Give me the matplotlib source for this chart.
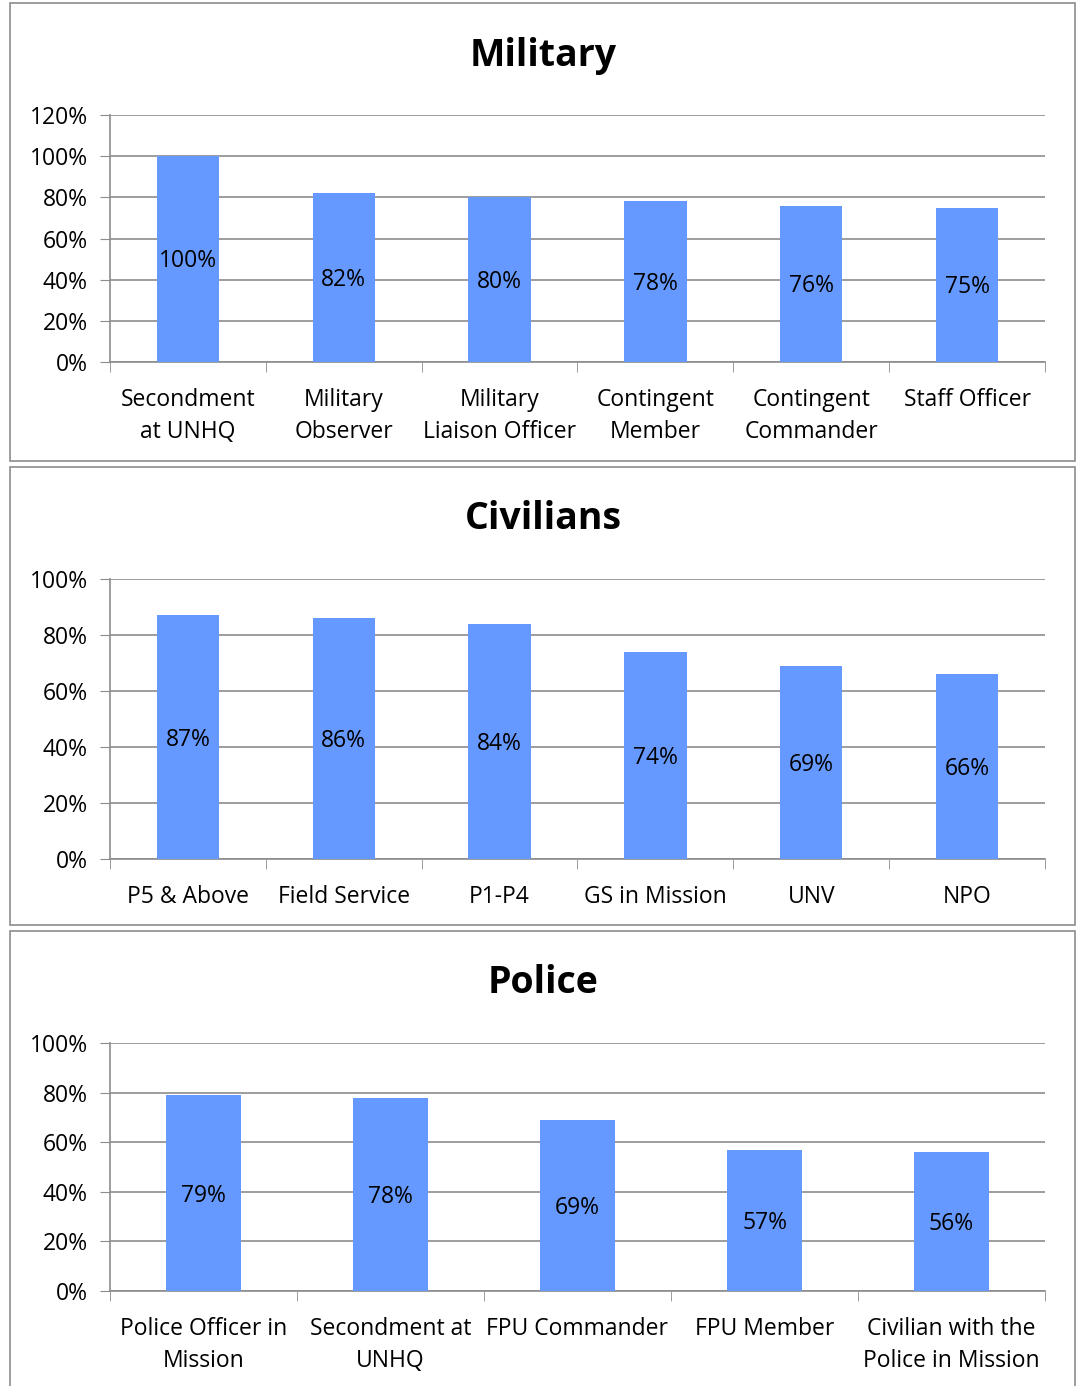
import matplotlib
matplotlib.use("Agg")
import matplotlib.pyplot as plt
from matplotlib.patches import Rectangle
from matplotlib.ticker import FixedLocator, FuncFormatter

plt.rcParams['font.family'] = ['Open Sans', 'DejaVu Sans']

mil_cats = ["Secondment\nat UNHQ", "Military\nObserver", "Military\nLiaison Officer",
            "Contingent\nMember", "Contingent\nCommander", "Staff Officer"]
mil_vals = [100, 82, 80, 78, 76, 75]

civ_cats = ["P5 & Above", "Field Service", "P1-P4", "GS in Mission", "UNV", "NPO"]
civ_vals = [87, 86, 84, 74, 69, 66]

pol_cats = ["Police Officer in\nMission", "Secondment at\nUNHQ", "FPU Commander",
            "FPU Member", "Civilian with the\nPolice in Mission"]
pol_vals = [79, 78, 69, 57, 56]

W, H = 1077, 1386
fig = plt.figure(figsize=(W / 100, H / 100), dpi=100)

BAR = "#6699FF"
GRID = "#8c8c8c"
FS = 16.5

def px_axes(x0, y0, x1, y1):
    return fig.add_axes([x0 / W, 1 - y1 / H, (x1 - x0) / W, (y1 - y0) / H])

def panel(box, title, title_y, ax_box, cats, vals, ymax):
    bx0, by0, bx1, by1 = box
    fig.patches.append(Rectangle((bx0 / W, 1 - by1 / H), (bx1 - bx0) / W, (by1 - by0) / H,
                                 transform=fig.transFigure, fill=False,
                                 edgecolor="#8c8c8c", linewidth=1.2))
    fig.text(543 / W, 1 - title_y / H, title, ha="center", va="center",
             fontsize=27, fontweight="bold")
    ax = px_axes(*ax_box)
    n = len(cats)
    x = list(range(n))
    ax.bar(x, vals, width=0.4, color=BAR, zorder=3)
    for xi, v in zip(x, vals):
        ax.text(xi, v / 2 - 1, f"{v}%", ha="center", va="center", fontsize=FS, zorder=4)
    ax.set_xlim(-0.5, n - 0.5)
    ax.set_ylim(0, ymax)
    ax.yaxis.set_major_locator(FixedLocator(list(range(0, ymax + 1, 20))))
    ax.yaxis.set_major_formatter(FuncFormatter(lambda v, p: f"{int(v)}%"))
    ax.set_xticks(x)
    ax.set_xticklabels(cats, fontsize=FS, linespacing=1.45)
    ax.set_xticks([i - 0.5 for i in range(n + 1)], minor=True)
    ax.tick_params(axis="x", which="major", length=0, pad=19)
    ax.tick_params(axis="x", which="minor", length=7, color=GRID, direction="out")
    ax.tick_params(axis="y", length=7, color=GRID, labelsize=FS, pad=9)
    ax.grid(axis="y", color=GRID, linewidth=1.2, zorder=0)
    for s in ["top", "right"]:
        ax.spines[s].set_visible(False)
    for s in ["left", "bottom"]:
        ax.spines[s].set_color(GRID)
        ax.spines[s].set_linewidth(1.2)
    return ax

panel((10, 3, 1075, 461), "Military", 56, (110, 115, 1045, 362), mil_cats, mil_vals, 120)
panel((10, 467, 1075, 925), "Civilians", 519, (110, 579, 1045, 859), civ_cats, civ_vals, 100)
panel((10, 931, 1075, 1392), "Police", 983, (110, 1043, 1045, 1291), pol_cats, pol_vals, 100)

fig.savefig("out.png", dpi=100, facecolor="white")
